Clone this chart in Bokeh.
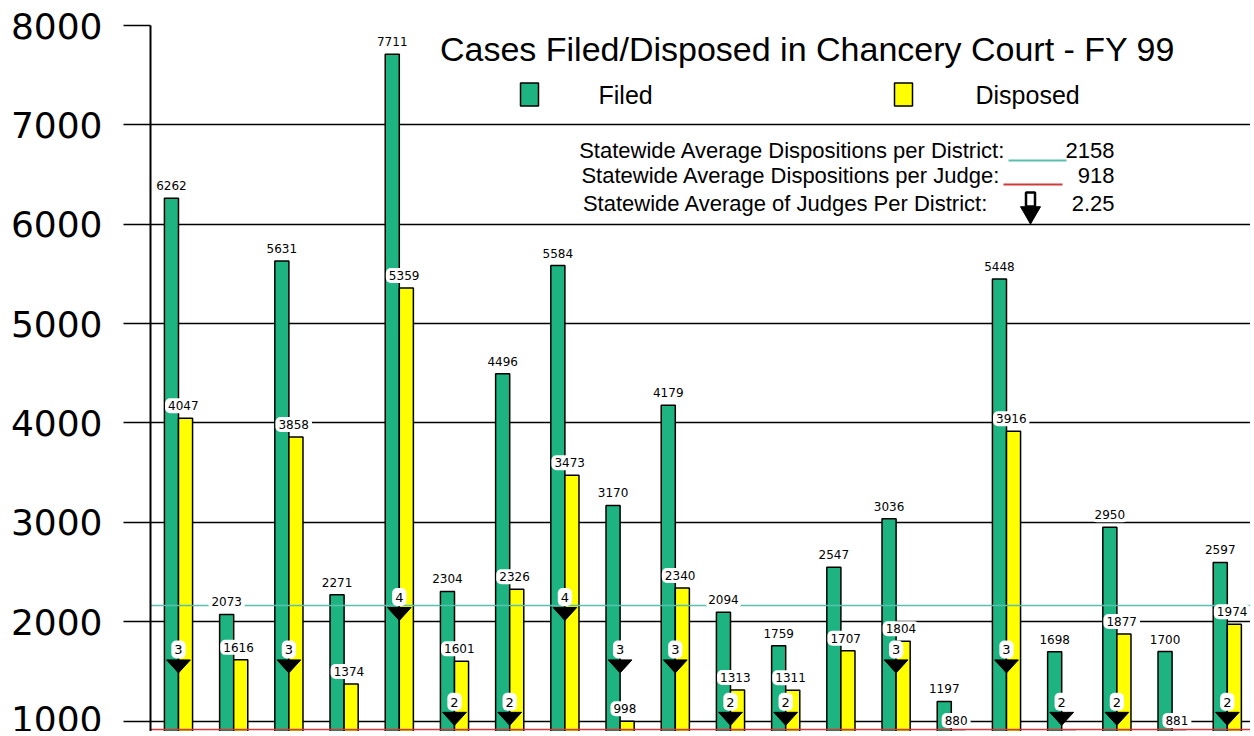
from bokeh.plotting import figure
from bokeh.models import Range1d, FixedTicker
from bokeh.core.properties import value
from bokeh.embed import file_html
from bokeh.resources import INLINE

# ---------------- data ----------------
districts = list(range(1, 21))
filed = [6262, 2073, 5631, 2271, 7711, 2304, 4496, 5584, 3170, 4179,
         2094, 1759, 2547, 3036, 1197, 5448, 1698, 2950, 1700, 2597]
disposed = [4047, 1616, 3858, 1374, 5359, 1601, 2326, 3473, 998, 2340,
            1313, 1311, 1707, 1804, 880, 3916, 505, 1877, 881, 1974]
judges = [3, 1, 3, 1, 4, 2, 2, 4, 3, 3, 2, 2, 1, 3, 1, 3, 2, 2, 1, 2]
avg_per_district = 2158
avg_per_judge = 918
avg_judges = 2.25
y_ticks = [1000, 2000, 3000, 4000, 5000, 6000, 7000, 8000]
title_text = "Cases Filed/Disposed in Chancery Court - FY 99"
series_names = ["Filed", "Disposed"]
stat_texts = ["Statewide Average Dispositions per District:",
              "Statewide Average Dispositions per Judge:",
              "Statewide Average of Judges Per District:"]

# ---------------- layout / style ----------------
W, H = 1250, 731
LEFT, TOP = 150, 25
FRAME_L, FRAME_T = LEFT, TOP
FRAME_W, FRAME_H = W - LEFT, H - TOP
X0 = 0.4928
X1 = X0 + FRAME_W / 55.2
Y0, Y1 = 895, 8000
PX_PER_VAL = FRAME_H / (Y1 - Y0)
# secondary scale for the judge arrows
J_PER_VAL = 1 / 527.5
J_SHIFT = 32.5
JS0, JS1 = (Y0 + J_SHIFT) * J_PER_VAL, (Y1 + J_SHIFT) * J_PER_VAL

GREEN = "#1EB482"
YELLOW = "#FFFF00"
TEAL = "#5ABFAE"
RED = "#D03A3A"
BAR_W = 0.255


def dx(px):
    return X0 + (px - FRAME_L) / FRAME_W * (X1 - X0)


def dy(py):
    return Y1 - (py - FRAME_T) / FRAME_H * (Y1 - Y0)


p = figure(width=W, height=H, output_backend="svg", toolbar_location=None,
           x_range=Range1d(X0, X1), y_range=Range1d(Y0, Y1),
           x_axis_location=None, min_border_left=LEFT, min_border_right=0,
           min_border_top=TOP, min_border_bottom=0)
p.extra_y_ranges = {"judges": Range1d(JS0, JS1)}
p.outline_line_color = None
p.background_fill_color = "white"
p.border_fill_color = "white"

ax = p.yaxis[0]
ax.ticker = FixedTicker(ticks=y_ticks)
ax.major_label_text_font = "DejaVu Sans"
ax.major_label_text_font_size = "36px"
ax.major_label_text_color = "black"
ax.major_label_standoff = 21
ax.major_tick_out = 27
ax.major_tick_in = 0
ax.major_tick_line_color = "black"
ax.major_tick_line_width = 1.6
ax.minor_tick_line_color = None
ax.axis_line_color = "black"
ax.axis_line_width = 2

p.xgrid.visible = False
p.ygrid.grid_line_color = "black"
p.ygrid.grid_line_width = 1.6

gx = [d - BAR_W / 2 for d in districts]
yx = [d + BAR_W / 2 for d in districts]

p.vbar(x=gx, top=filed, bottom=0, width=BAR_W, fill_color=GREEN,
       line_color="black", line_width=1.5)
p.vbar(x=yx, top=disposed, bottom=0, width=BAR_W, fill_color=YELLOW,
       line_color="black", line_width=1.5)

p.hspan(y=[avg_per_district], line_color=TEAL, line_width=1.6)
p.hspan(y=[avg_per_judge], line_color=RED, line_width=1.6)

lab_kw = dict(text_font=value("DejaVu Sans"), text_font_size="12px",
              text_color="black", text_align="center", text_baseline="bottom",
              y_offset=-5, background_fill_color="white", padding=3,
              border_radius=5)
# only values whose label falls inside the visible scale get a label
lab_min = Y0 - 14 / PX_PER_VAL
f_idx = [i for i, v in enumerate(filed) if v >= lab_min]
d_idx = [i for i, v in enumerate(disposed) if v >= lab_min]
p.text(x=[gx[i] for i in f_idx], y=[filed[i] for i in f_idx],
       text=[str(filed[i]) for i in f_idx], **lab_kw)
p.text(x=[yx[i] - 0.04 for i in d_idx], y=[disposed[i] for i in d_idx],
       text=[str(disposed[i]) for i in d_idx], **lab_kw)

# judge arrows (shown where the scale reaches them)
j_idx = [i for i, j in enumerate(judges) if j > JS0]
half_w = 0.215
half_h = 6.5 * (JS1 - JS0) / FRAME_H
xs = [[districts[i] - half_w, districts[i] + half_w, districts[i]] for i in j_idx]
ys = [[judges[i] + half_h, judges[i] + half_h, judges[i] - half_h] for i in j_idx]
p.patches(xs=xs, ys=ys, fill_color="black", line_color="black",
          y_range_name="judges")
p.text(x=[districts[i] for i in j_idx], y=[judges[i] for i in j_idx],
       text=[str(judges[i]) for i in j_idx],
       y_range_name="judges", text_font=value("DejaVu Sans"),
       text_font_size="13px", text_color="black", text_align="center",
       text_baseline="middle", y_offset=-17, background_fill_color="white",
       padding=dict(left=3, right=3, top=5, bottom=4), border_radius=5)

# ---------------- title & legend block ----------------
p.text(x=[dx(807)], y=[dy(48)], text=[title_text], text_font=value("Liberation Sans"),
       text_font_size="34px", text_align="center", text_baseline="middle",
       text_color="black")
p.rect(x=[dx(529), dx(903)], y=[dy(94), dy(94)], width=18, height=23,
       width_units="screen", height_units="screen",
       fill_color=[GREEN, YELLOW], line_color="black", line_width=1.5)
p.text(x=[dx(598), dx(975)], y=[dy(94), dy(94)], text=series_names,
       text_font=value("Liberation Sans"), text_font_size="25px",
       text_align="left", text_baseline="middle", text_color="black")

p.text(x=[dx(1005), dx(1000), dx(988)], y=[dy(150), dy(175), dy(203)],
       text=stat_texts, text_font=value("Liberation Sans"), text_font_size="22px",
       text_align="right", text_baseline="middle", text_color="black")
p.text(x=[dx(1114), dx(1114), dx(1114)], y=[dy(150), dy(175), dy(203)],
       text=[str(avg_per_district), str(avg_per_judge), str(avg_judges)],
       text_font=value("Liberation Sans"), text_font_size="22px",
       text_align="right", text_baseline="middle", text_color="black")
p.segment(x0=[dx(1008), dx(1003)], y0=[dy(160), dy(184)],
          x1=[dx(1066), dx(1062)], y1=[dy(160), dy(184)],
          line_color=[TEAL, RED], line_width=2)
p.rect(x=[dx(1030)], y=[dy(199)], width=9, height=14, width_units="screen",
       height_units="screen", fill_color="white", line_color="black", line_width=2.5)
p.scatter(x=[dx(1030)], y=[dy(212)], marker="inverted_triangle", size=20,
          fill_color="black", line_color="black")

open("out.html", "w").write(file_html(p, INLINE))
